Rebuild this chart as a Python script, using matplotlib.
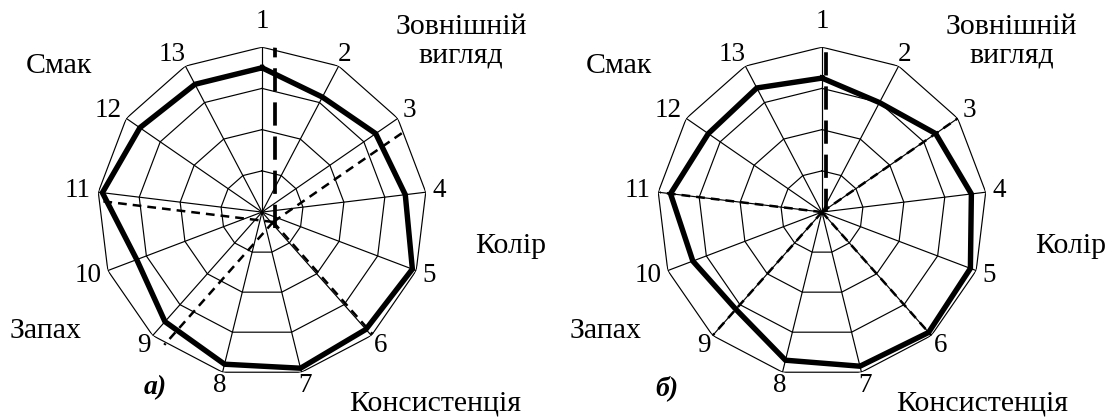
import numpy as np
import matplotlib
matplotlib.use('Agg')
from matplotlib import pyplot as plt

plt.rcParams['font.family'] = ['Liberation Serif', 'DejaVu Serif']

# 13 sensory indicators, 5-point scale (centre = 1, outer ring = 5)
axis_labels = [str(i) for i in range(1, 14)]
values_a = [4.5, 4.15, 4.35, 4.5, 4.9, 4.8, 4.9, 4.8, 4.55, 4.25, 4.9, 4.6, 4.5]
values_b = [4.25, 4.0, 4.35, 4.65, 4.85, 4.9, 4.85, 4.7, 4.15, 4.35, 4.7, 4.35, 4.4]
ring_levels = [2, 3, 4, 5]
scale_min, scale_max = 1, 5

group_names = ['Зовнішній\nвигляд', 'Колір', 'Консистенція', 'Запах', 'Смак']
panel_tags = ['а)', 'б)']

# group dividers: indicator index, length (in rings), origin offset of dashed lines
divider_axes = [3, 6, 9, 11]
divider_len_a = [3.93, 4.23, 4.28, 4.18]
divider_len_b = [4.07, 4.0, 4.04, 3.95]
divider_origin_a = (0.27, -0.24)
divider_origin_b = (0.0, 0.0)
vertical_a = (0.32, -0.39, 4.27)   # x offset, start, end
vertical_b = (0.10, 0.0, 4.48)

# label placement in axes fraction
group_pos_a = [(1.103, 1.018, 'center'), (1.255, 0.397, 'center'),
               (1.024, -0.103, 'baseline'), (-0.155, 0.139, 'center'),
               (-0.115, 0.942, 'center')]
group_pos_b = [(1.075, 1.018, 'center'), (1.255, 0.397, 'center'),
               (0.985, -0.103, 'baseline'), (-0.155, 0.139, 'center'),
               (-0.115, 0.942, 'center')]
tag_pos_a = (0.176, -0.033)
tag_pos_b = (0.029, -0.033)

n = len(axis_labels)
theta = np.arange(n) * 2 * np.pi / n


def to_polar(x, y):
    return np.arctan2(x, y), np.hypot(x, y) + scale_min


def draw_line(ax, p0, p1, **kw):
    t0, r0 = to_polar(*p0)
    t1, r1 = to_polar(*p1)
    ax.plot([t0, t1], [r0, r1], color='black', **kw)


def radar(ax, values, origin, lengths, vertical, group_pos, tag, tag_pos):
    ax.set_theta_zero_location('N')
    ax.set_theta_direction(-1)
    ax.set_ylim(scale_min, scale_max)
    ax.set_axis_off()

    tc = np.append(theta, theta[0])
    for lev in ring_levels:
        ax.plot(tc, [lev] * (n + 1), color='black', lw=0.85)
    for t in theta:
        ax.plot([t, t], [scale_min, scale_max], color='black', lw=0.85)

    vals = np.append(values, values[0])
    ax.plot(tc, vals, color='black', lw=3.9, solid_joinstyle='miter', zorder=5)

    # dashed group dividers
    for idx, ln in zip(divider_axes, lengths):
        t = theta[idx - 1]
        p1 = (origin[0] + ln * np.sin(t), origin[1] + ln * np.cos(t))
        draw_line(ax, origin, p1, lw=1.8, dashes=(3.5, 2.4), zorder=6)
    xo, y0, y1 = vertical
    draw_line(ax, (xo, y0), (xo, y1), lw=2.7, dashes=(6.2, 2.9), zorder=6)

    # indicator numbers around the outer ring
    for t, lab in zip(theta, axis_labels):
        top = np.cos(t) > 0.95
        shift = 5 * (len(lab) - 1) * np.sign(np.sin(t))
        ax.annotate(lab, (t, scale_min + 4.33), xytext=(shift, 0),
                    textcoords='offset points', ha='center',
                    va='bottom' if top else 'center', fontsize=19.5,
                    annotation_clip=False)

    for name, (x, y, va) in zip(group_names, group_pos):
        ax.text(x, y, name, transform=ax.transAxes, ha='center', va=va,
                fontsize=21.5, linespacing=1.1)
    ax.text(tag_pos[0], tag_pos[1], tag, transform=ax.transAxes, ha='center',
            va='center', fontsize=20, style='italic', weight='bold')


fig = plt.figure(figsize=(11.15, 4.17), dpi=100)
ax_a = fig.add_axes([0.0870, 0.0959, 0.296, 0.791], projection='polar')
ax_b = fig.add_axes([0.5892, 0.0959, 0.296, 0.791], projection='polar')

radar(ax_a, values_a, divider_origin_a, divider_len_a, vertical_a, group_pos_a,
      panel_tags[0], tag_pos_a)
radar(ax_b, values_b, divider_origin_b, divider_len_b, vertical_b, group_pos_b,
      panel_tags[1], tag_pos_b)

fig.savefig('out.png', dpi=100)
